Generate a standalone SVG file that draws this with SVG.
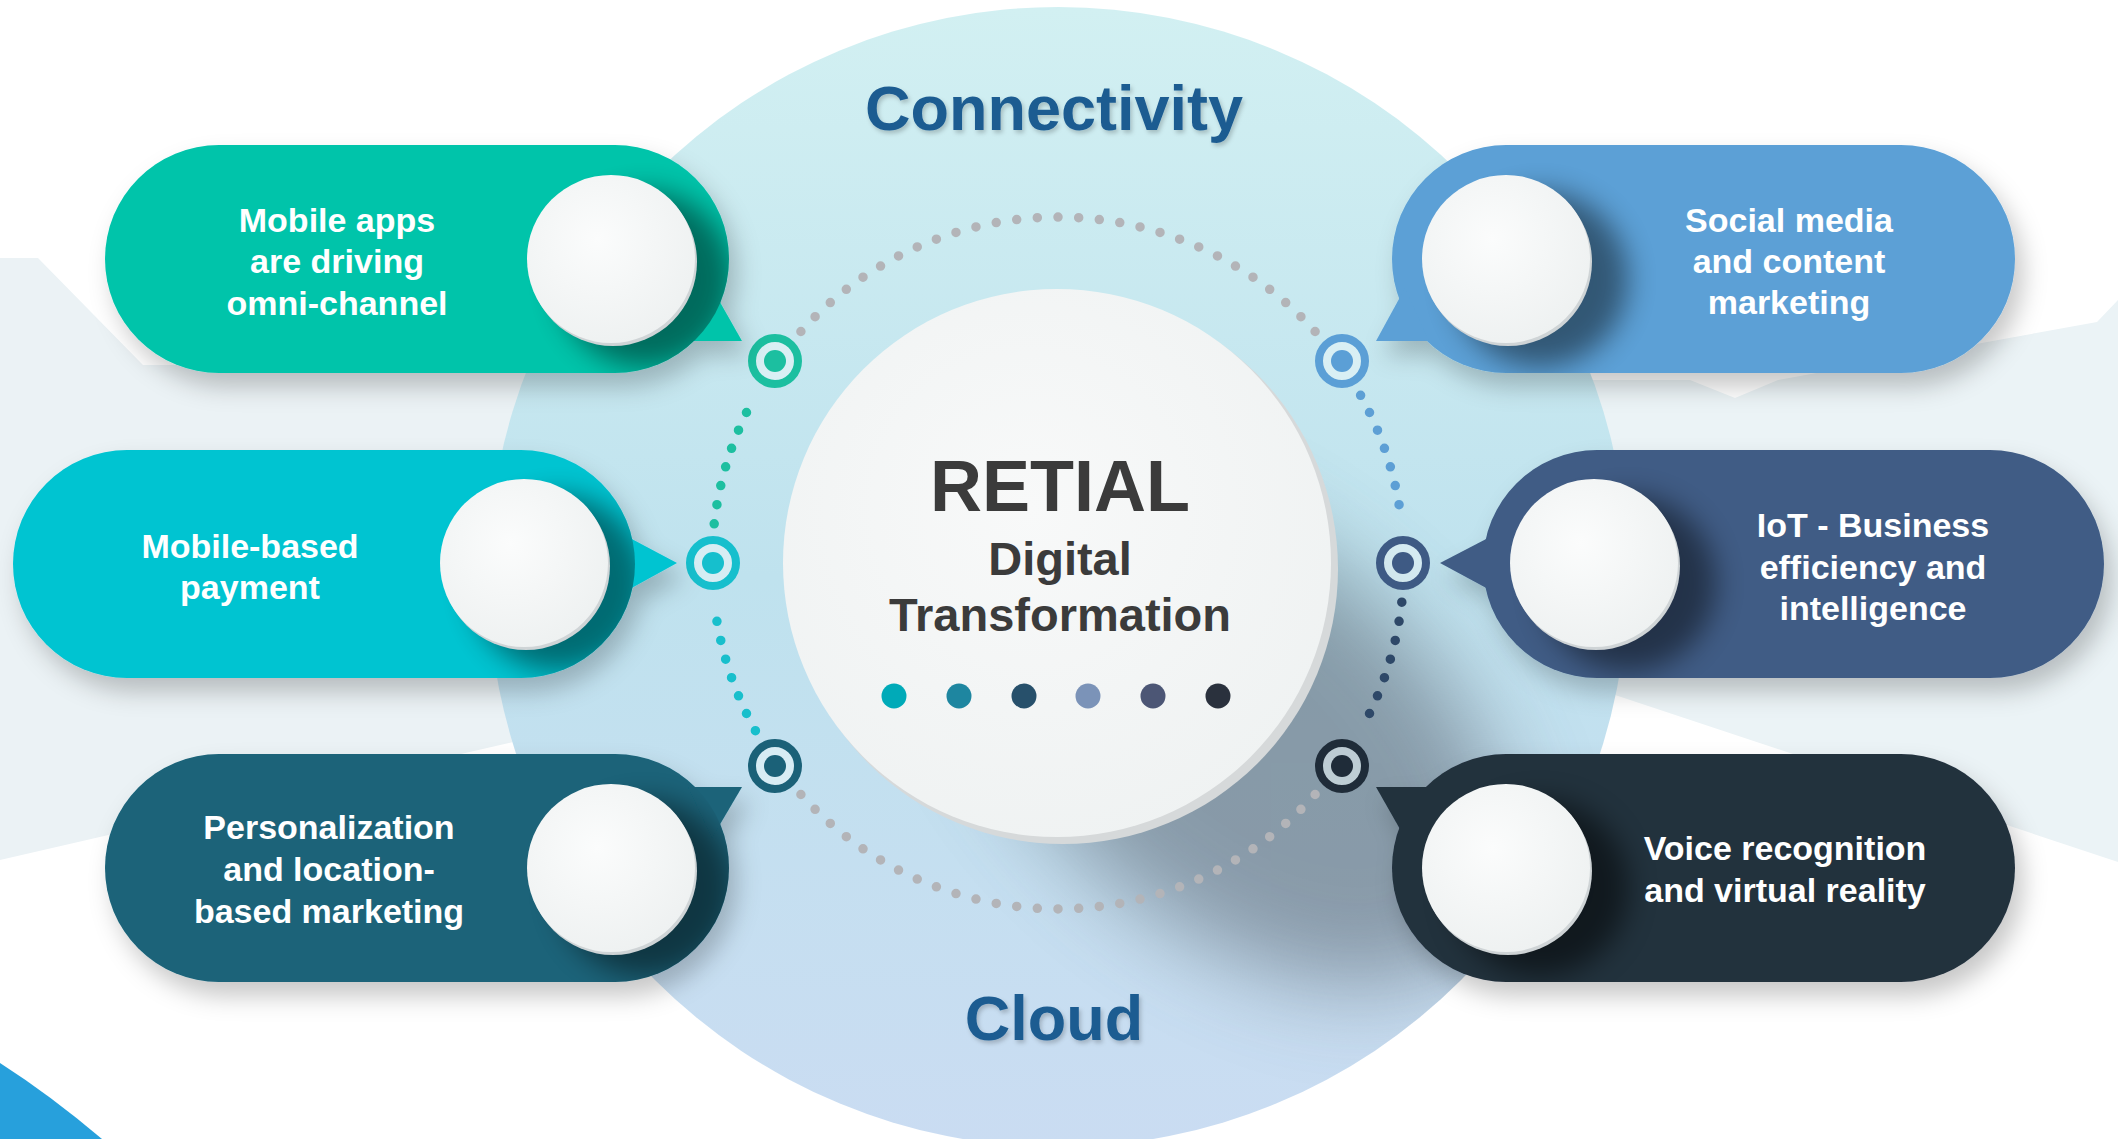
<svg xmlns="http://www.w3.org/2000/svg" width="2118" height="1139" viewBox="0 0 2118 1139">
<style>
.lbl{font-family:"Liberation Sans",Arial,sans-serif;font-weight:bold;font-size:34px;fill:#ffffff;text-anchor:middle}
.big{font-family:"Liberation Sans",Arial,sans-serif;font-weight:bold;font-size:63px;fill:#1d5c91;text-anchor:middle}
.ttl{font-family:"Liberation Sans",Arial,sans-serif;font-weight:bold;fill:#3b3b3b;text-anchor:middle}
.ring{fill:none;stroke-width:9.5;stroke-linecap:round;stroke-dasharray:0 1}
.tgt{fill:#eaf6f8;fill-opacity:0.55;stroke-width:8}
</style>
<defs>
<linearGradient id="bgCircle" x1="0" y1="0" x2="0" y2="1">
<stop offset="0" stop-color="#d2f0f2"/>
<stop offset="0.5" stop-color="#bfe2ee"/>
<stop offset="1" stop-color="#cadcf2"/>
</linearGradient>
<radialGradient id="face" cx="0.42" cy="0.38" r="0.65">
<stop offset="0" stop-color="#fbfcfc"/>
<stop offset="1" stop-color="#eef1f1"/>
</radialGradient>
<radialGradient id="discFace" cx="0.45" cy="0.4" r="0.65">
<stop offset="0" stop-color="#f8f9f9"/>
<stop offset="1" stop-color="#eff2f2"/>
</radialGradient>
<filter id="pillShadow" x="-20%" y="-30%" width="140%" height="170%">
<feDropShadow dx="8" dy="14" stdDeviation="12" flood-color="#000" flood-opacity="0.22"/>
</filter>
<filter id="blur14" x="-50%" y="-50%" width="200%" height="200%"><feGaussianBlur stdDeviation="14"/></filter>
<filter id="blur45" x="-50%" y="-50%" width="200%" height="200%"><feGaussianBlur stdDeviation="45"/></filter>
<filter id="txtShadow" x="-10%" y="-30%" width="120%" height="160%">
<feDropShadow dx="2" dy="3" stdDeviation="2" flood-color="#000" flood-opacity="0.2"/>
</filter>
<clipPath id="bigClip"><circle cx="1058" cy="577" r="570"/></clipPath>
<clipPath id="c1"><rect x="105" y="145" width="624" height="228" rx="114"/></clipPath>
<clipPath id="c2"><rect x="13" y="450" width="622" height="228" rx="114"/></clipPath>
<clipPath id="c3"><rect x="105" y="754" width="624" height="228" rx="114"/></clipPath>
<clipPath id="c4"><rect x="1392" y="145" width="623" height="228" rx="114"/></clipPath>
<clipPath id="c5"><rect x="1483" y="450" width="621" height="228" rx="114"/></clipPath>
<clipPath id="c6"><rect x="1392" y="754" width="623" height="228" rx="114"/></clipPath>
</defs>

<g id="background">
<rect width="2118" height="1139" fill="#ffffff"/>
<polygon points="0,258 38,258 143,365 720,365 720,722 513,742 0,860" fill="#ebf2f5"/>
<polygon points="1520,380 1690,380 1735,398 1778,380 2097,322 2118,300 2118,862 1600,690 1520,680" fill="#ebf3f6"/>
<path d="M0,1063 Q50,1095 102,1139 L0,1139 Z" fill="#27a0dc"/>
<circle cx="1058" cy="577" r="570" fill="url(#bgCircle)"/>
<g clip-path="url(#bigClip)">
<ellipse cx="1235" cy="735" rx="320" ry="190" transform="rotate(40 1235 735)" fill="#4d5763" opacity="0.5" filter="url(#blur45)"/>
</g>
</g>

<g id="connectors">
<path class="ring" stroke="#b3b4b8" pathLength="28" d="M800.9,331.5 A346,346 0 0 1 1315.1,331.5"/>
<path class="ring" stroke="#5d9fd5" pathLength="7" d="M1360.6,395.3 A346,346 0 0 1 1401.8,523.8"/>
<path class="ring" stroke="#2e4868" pathLength="7" d="M1401.8,602.2 A346,346 0 0 1 1360.6,730.7"/>
<path class="ring" stroke="#b3b4b8" pathLength="28" d="M1315.1,794.5 A346,346 0 0 1 800.9,794.5"/>
<path class="ring" stroke="#18bfcc" pathLength="7" d="M755.4,730.7 A346,346 0 0 1 714.2,602.2"/>
<path class="ring" stroke="#1dbfa0" pathLength="7" d="M714.2,523.8 A346,346 0 0 1 755.4,395.3"/>
<g id="marker-tl"><circle class="tgt" cx="775" cy="361" r="23" stroke="#1cbfa0"/><circle cx="775" cy="361" r="11" fill="#1cbfa0"/></g>
<g id="marker-l"><circle class="tgt" cx="713" cy="563" r="23" stroke="#16bfcd"/><circle cx="713" cy="563" r="11" fill="#16bfcd"/></g>
<g id="marker-bl"><circle class="tgt" cx="775" cy="766" r="23" stroke="#1b6178"/><circle cx="775" cy="766" r="11" fill="#1b6178"/></g>
<g id="marker-tr"><circle class="tgt" cx="1342" cy="361" r="23" stroke="#5b9fd6"/><circle cx="1342" cy="361" r="11" fill="#5b9fd6"/></g>
<g id="marker-r"><circle class="tgt" cx="1403" cy="563" r="23" stroke="#3e5a84"/><circle cx="1403" cy="563" r="11" fill="#3e5a84"/></g>
<g id="marker-br"><circle class="tgt" cx="1342" cy="766" r="23" stroke="#1f2c39"/><circle cx="1342" cy="766" r="11" fill="#1f2c39"/></g>
</g>

<g id="center">
<circle cx="1063" cy="569" r="275" fill="#d6d9da"/>
<circle cx="1057" cy="563" r="274" fill="url(#discFace)"/>
<text class="ttl" x="1060" y="511" font-size="72">RETIAL</text>
<text class="ttl" x="1060" y="575" font-size="47">Digital</text>
<text class="ttl" x="1060" y="631" font-size="47">Transformation</text>
<circle cx="894" cy="696" r="12.5" fill="#00aab8"/>
<circle cx="959" cy="696" r="12.5" fill="#1e86a0"/>
<circle cx="1024" cy="696" r="12.5" fill="#27506b"/>
<circle cx="1088" cy="696" r="12.5" fill="#7b93b8"/>
<circle cx="1153" cy="696" r="12.5" fill="#4c5675"/>
<circle cx="1218" cy="696" r="12.5" fill="#2a313d"/>
</g>

<g id="node-mobile-apps">
<g filter="url(#pillShadow)" fill="#00c4aa">
<rect x="105" y="145" width="624" height="228" rx="114"/>
<polygon points="712,288 742,341 688,341"/>
</g>
<g clip-path="url(#c1)"><circle cx="645" cy="279" r="88" fill="#000" opacity="0.45" filter="url(#blur14)"/></g>
<circle cx="613" cy="262" r="84" fill="#cfd4d6"/>
<circle cx="611" cy="259" r="84" fill="url(#face)"/>
<text class="lbl" x="337" y="232">Mobile apps</text>
<text class="lbl" x="337" y="273">are driving</text>
<text class="lbl" x="337" y="315">omni-channel</text>
</g>

<g id="node-mobile-payment">
<g filter="url(#pillShadow)" fill="#00c4d1">
<rect x="13" y="450" width="622" height="228" rx="114"/>
<polygon points="628,537 677,563 628,590"/>
</g>
<g clip-path="url(#c2)"><circle cx="558" cy="583" r="88" fill="#000" opacity="0.45" filter="url(#blur14)"/></g>
<circle cx="526" cy="566" r="84" fill="#cfd4d6"/>
<circle cx="524" cy="563" r="84" fill="url(#face)"/>
<text class="lbl" x="250" y="558">Mobile-based</text>
<text class="lbl" x="250" y="599">payment</text>
</g>

<g id="node-personalization">
<g filter="url(#pillShadow)" fill="#1a6379">
<rect x="105" y="754" width="624" height="228" rx="114"/>
<polygon points="688,787 742,787 712,838"/>
</g>
<g clip-path="url(#c3)"><circle cx="645" cy="888" r="88" fill="#000" opacity="0.45" filter="url(#blur14)"/></g>
<circle cx="613" cy="871" r="84" fill="#cfd4d6"/>
<circle cx="611" cy="868" r="84" fill="url(#face)"/>
<text class="lbl" x="329" y="839">Personalization</text>
<text class="lbl" x="329" y="881">and location-</text>
<text class="lbl" x="329" y="923">based marketing</text>
</g>

<g id="node-social-media">
<g filter="url(#pillShadow)" fill="#5ba0d6">
<rect x="1392" y="145" width="623" height="228" rx="114"/>
<polygon points="1405,288 1376,341 1429,341"/>
</g>
<g clip-path="url(#c4)"><circle cx="1540" cy="279" r="88" fill="#000" opacity="0.45" filter="url(#blur14)"/></g>
<circle cx="1508" cy="262" r="84" fill="#cfd4d6"/>
<circle cx="1506" cy="259" r="84" fill="url(#face)"/>
<text class="lbl" x="1789" y="232">Social media</text>
<text class="lbl" x="1789" y="273">and content</text>
<text class="lbl" x="1789" y="314">marketing</text>
</g>

<g id="node-iot">
<g filter="url(#pillShadow)" fill="#3f5c85">
<rect x="1483" y="450" width="621" height="228" rx="114"/>
<polygon points="1490,537 1440,563 1490,590"/>
</g>
<g clip-path="url(#c5)"><circle cx="1628" cy="583" r="88" fill="#000" opacity="0.45" filter="url(#blur14)"/></g>
<circle cx="1596" cy="566" r="84" fill="#cfd4d6"/>
<circle cx="1594" cy="563" r="84" fill="url(#face)"/>
<text class="lbl" x="1873" y="537">IoT - Business</text>
<text class="lbl" x="1873" y="579">efficiency and</text>
<text class="lbl" x="1873" y="620">intelligence</text>
</g>

<g id="node-voice">
<g filter="url(#pillShadow)" fill="#22313e">
<rect x="1392" y="754" width="623" height="228" rx="114"/>
<polygon points="1376,787 1429,787 1405,838"/>
</g>
<g clip-path="url(#c6)"><circle cx="1540" cy="888" r="88" fill="#000" opacity="0.5" filter="url(#blur14)"/></g>
<circle cx="1508" cy="871" r="84" fill="#cfd4d6"/>
<circle cx="1506" cy="868" r="84" fill="url(#face)"/>
<text class="lbl" x="1785" y="860">Voice recognition</text>
<text class="lbl" x="1785" y="902">and virtual reality</text>
</g>

<g id="labels" filter="url(#txtShadow)">
<text class="big" x="1054" y="130">Connectivity</text>
<text class="big" x="1054" y="1040">Cloud</text>
</g>
</svg>
